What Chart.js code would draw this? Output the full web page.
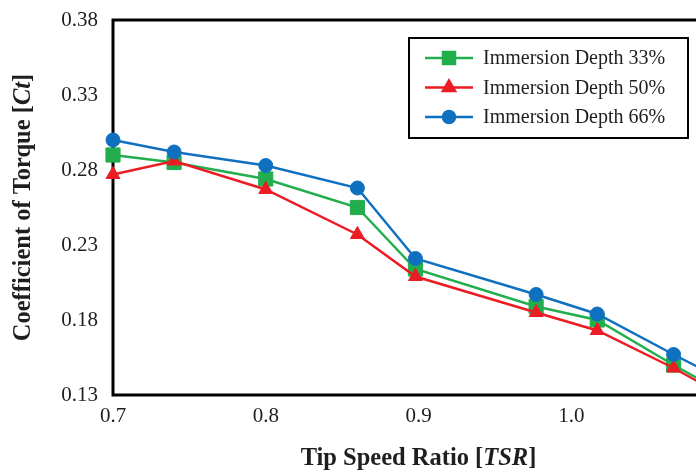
<!DOCTYPE html>
<html>
<head>
<meta charset="UTF-8">
<title>Coefficient of Torque vs TSR</title>
<script src="https://cdn.jsdelivr.net/npm/chart.js"></script>
<style>
  html, body { margin: 0; padding: 0; background: #fff; overflow: hidden; }
  .chart-box { width: 696px; height: 473px; overflow: hidden; }
  canvas { display: block; }
</style>
</head>
<body>
<div class="chart-box"><canvas id="ctChart" width="740" height="473"></canvas></div>
<script>
// data
const tsr   = [0.70, 0.74, 0.80, 0.86, 0.898, 0.977, 1.017, 1.067, 1.09];
const ct33  = [0.290, 0.285, 0.274, 0.255, 0.214, 0.189, 0.180, 0.150, 0.137];
const ct50  = [0.277, 0.286, 0.267, 0.237, 0.209, 0.185, 0.173, 0.148, 0.135];
const ct66  = [0.300, 0.292, 0.283, 0.268, 0.221, 0.197, 0.184, 0.157, 0.145];
const seriesNames = ['Immersion Depth 33%', 'Immersion Depth 50%', 'Immersion Depth 66%'];
const xTicks = [0.7, 0.8, 0.9, 1.0, 1.1];
const yTicks = [0.13, 0.18, 0.23, 0.28, 0.33, 0.38];
const xTitle = [['Tip Speed Ratio [', false], ['TSR', true], [']', false]];
const yTitle = [['Coefficient of Torque [', false], ['Ct', true], [']', false]];

const SERIF = '"Liberation Serif", "Times New Roman", serif';

function pts(ys) {
    return tsr.map((x, i) => ({ x: x, y: ys[i] }));
}

// plot area frame, drawn under the markers
const framePlugin = {
    id: 'frame',
    beforeDatasetsDraw(chart) {
        const { ctx, chartArea: a } = chart;
        ctx.save();
        ctx.strokeStyle = '#000';
        ctx.lineWidth = 3;
        ctx.strokeRect(a.left, a.top, a.right - a.left, a.bottom - a.top);
        ctx.restore();
    }
};

function drawMixed(ctx, parts, cx, cy) {
    var widths = parts.map(p => {
        ctx.font = (p[1] ? 'italic ' : '') + 'bold 24.5px ' + SERIF;
        return ctx.measureText(p[0]).width;
    });
    var total = widths.reduce((s, w) => s + w, 0);
    var x = cx - total / 2;
    ctx.textBaseline = 'middle';
    ctx.textAlign = 'left';
    parts.forEach((p, i) => {
        ctx.font = (p[1] ? 'italic ' : '') + 'bold 24.5px ' + SERIF;
        ctx.fillText(p[0], x, cy);
        x += widths[i];
    });
}

// axis titles with italic symbols
const titlePlugin = {
    id: 'titles',
    afterDraw(chart) {
        const { ctx, chartArea: a } = chart;
        ctx.save();
        ctx.fillStyle = '#1e1e1e';
        drawMixed(ctx, xTitle, (a.left + a.right) / 2, 459);
        ctx.translate(24, (a.top + a.bottom) / 2);
        ctx.rotate(-Math.PI / 2);
        drawMixed(ctx, yTitle, 0, 0);
        ctx.restore();
    }
};

// boxed legend inside the plot
const legendPlugin = {
    id: 'boxLegend',
    afterDraw(chart) {
        const { ctx, chartArea: a } = chart;
        const bx = a.left + 296, by = a.top + 18, bw = 279, bh = 100;
        ctx.save();
        ctx.fillStyle = '#fff';
        ctx.fillRect(bx, by, bw, bh);
        ctx.strokeStyle = '#000';
        ctx.lineWidth = 2;
        ctx.strokeRect(bx, by, bw, bh);
        chart.data.datasets.forEach((ds, i) => {
            const y = by + 20 + i * 29.5;
            ctx.strokeStyle = ds.borderColor;
            ctx.lineWidth = 2.5;
            ctx.beginPath();
            ctx.moveTo(bx + 16, y);
            ctx.lineTo(bx + 64, y);
            ctx.stroke();
            ctx.fillStyle = ds.borderColor;
            Chart.helpers.drawPoint(ctx, {
                pointStyle: ds.pointStyle, rotation: 0,
                radius: ds.legendRadius, borderWidth: 1
            }, bx + 40, y);
            ctx.fillStyle = '#1e1e1e';
            ctx.font = '20px ' + SERIF;
            ctx.textAlign = 'left';
            ctx.textBaseline = 'middle';
            ctx.fillText(ds.label, bx + 74, y + 1);
        });
        ctx.restore();
    }
};

const ctx = document.getElementById('ctChart').getContext('2d');
const ctChart = new Chart(ctx, {
    type: 'line',
    data: {
        datasets: [
            {
                label: seriesNames[0],
                data: pts(ct33),
                borderColor: '#22AE4D',
                backgroundColor: '#22AE4D',
                pointBorderColor: '#22AE4D',
                pointStyle: 'rect',
                pointRadius: 10,
                legendRadius: 8.5,
                order: 3
            },
            {
                label: seriesNames[1],
                data: pts(ct50),
                borderColor: '#EC1C24',
                backgroundColor: '#EC1C24',
                pointBorderColor: '#EC1C24',
                pointStyle: 'triangle',
                pointRadius: 8,
                legendRadius: 7,
                order: 2
            },
            {
                label: seriesNames[2],
                data: pts(ct66),
                borderColor: '#1070C0',
                backgroundColor: '#1070C0',
                pointBorderColor: '#1070C0',
                pointStyle: 'circle',
                pointRadius: 7,
                legendRadius: 6,
                order: 1
            }
        ]
    },
    options: {
        responsive: false,
        animation: false,
        clip: false,
        layout: { padding: { left: 0, top: 20, right: 16, bottom: 0 } },
        elements: {
            line: { borderWidth: 2.5, tension: 0 },
            point: { borderWidth: 1 }
        },
        plugins: {
            legend: { display: false },
            tooltip: { enabled: false }
        },
        scales: {
            x: {
                type: 'linear',
                min: 0.7,
                max: 1.1,
                grid: { display: false, drawTicks: false },
                border: { display: false },
                afterBuildTicks: s => { s.ticks = xTicks.map(v => ({ value: v })); },
                afterFit: s => { s.height = 78; s.paddingLeft = 0; s.paddingRight = 0; },
                ticks: {
                    padding: 9,
                    color: '#1e1e1e',
                    font: { family: SERIF, size: 21 },
                    maxRotation: 0,
                    callback: v => Number(v).toFixed(1)
                }
            },
            y: {
                min: 0.13,
                max: 0.38,
                grid: { display: false, drawTicks: false },
                border: { display: false },
                afterBuildTicks: s => { s.ticks = yTicks.map(v => ({ value: v })); },
                afterFit: s => { s.width = 113; s.paddingTop = 0; s.paddingBottom = 0; },
                ticks: {
                    padding: 15,
                    color: '#1e1e1e',
                    font: { family: SERIF, size: 21 },
                    callback: v => Number(v).toFixed(2)
                }
            }
        }
    },
    plugins: [framePlugin, titlePlugin, legendPlugin]
});
</script>
</body>
</html>
